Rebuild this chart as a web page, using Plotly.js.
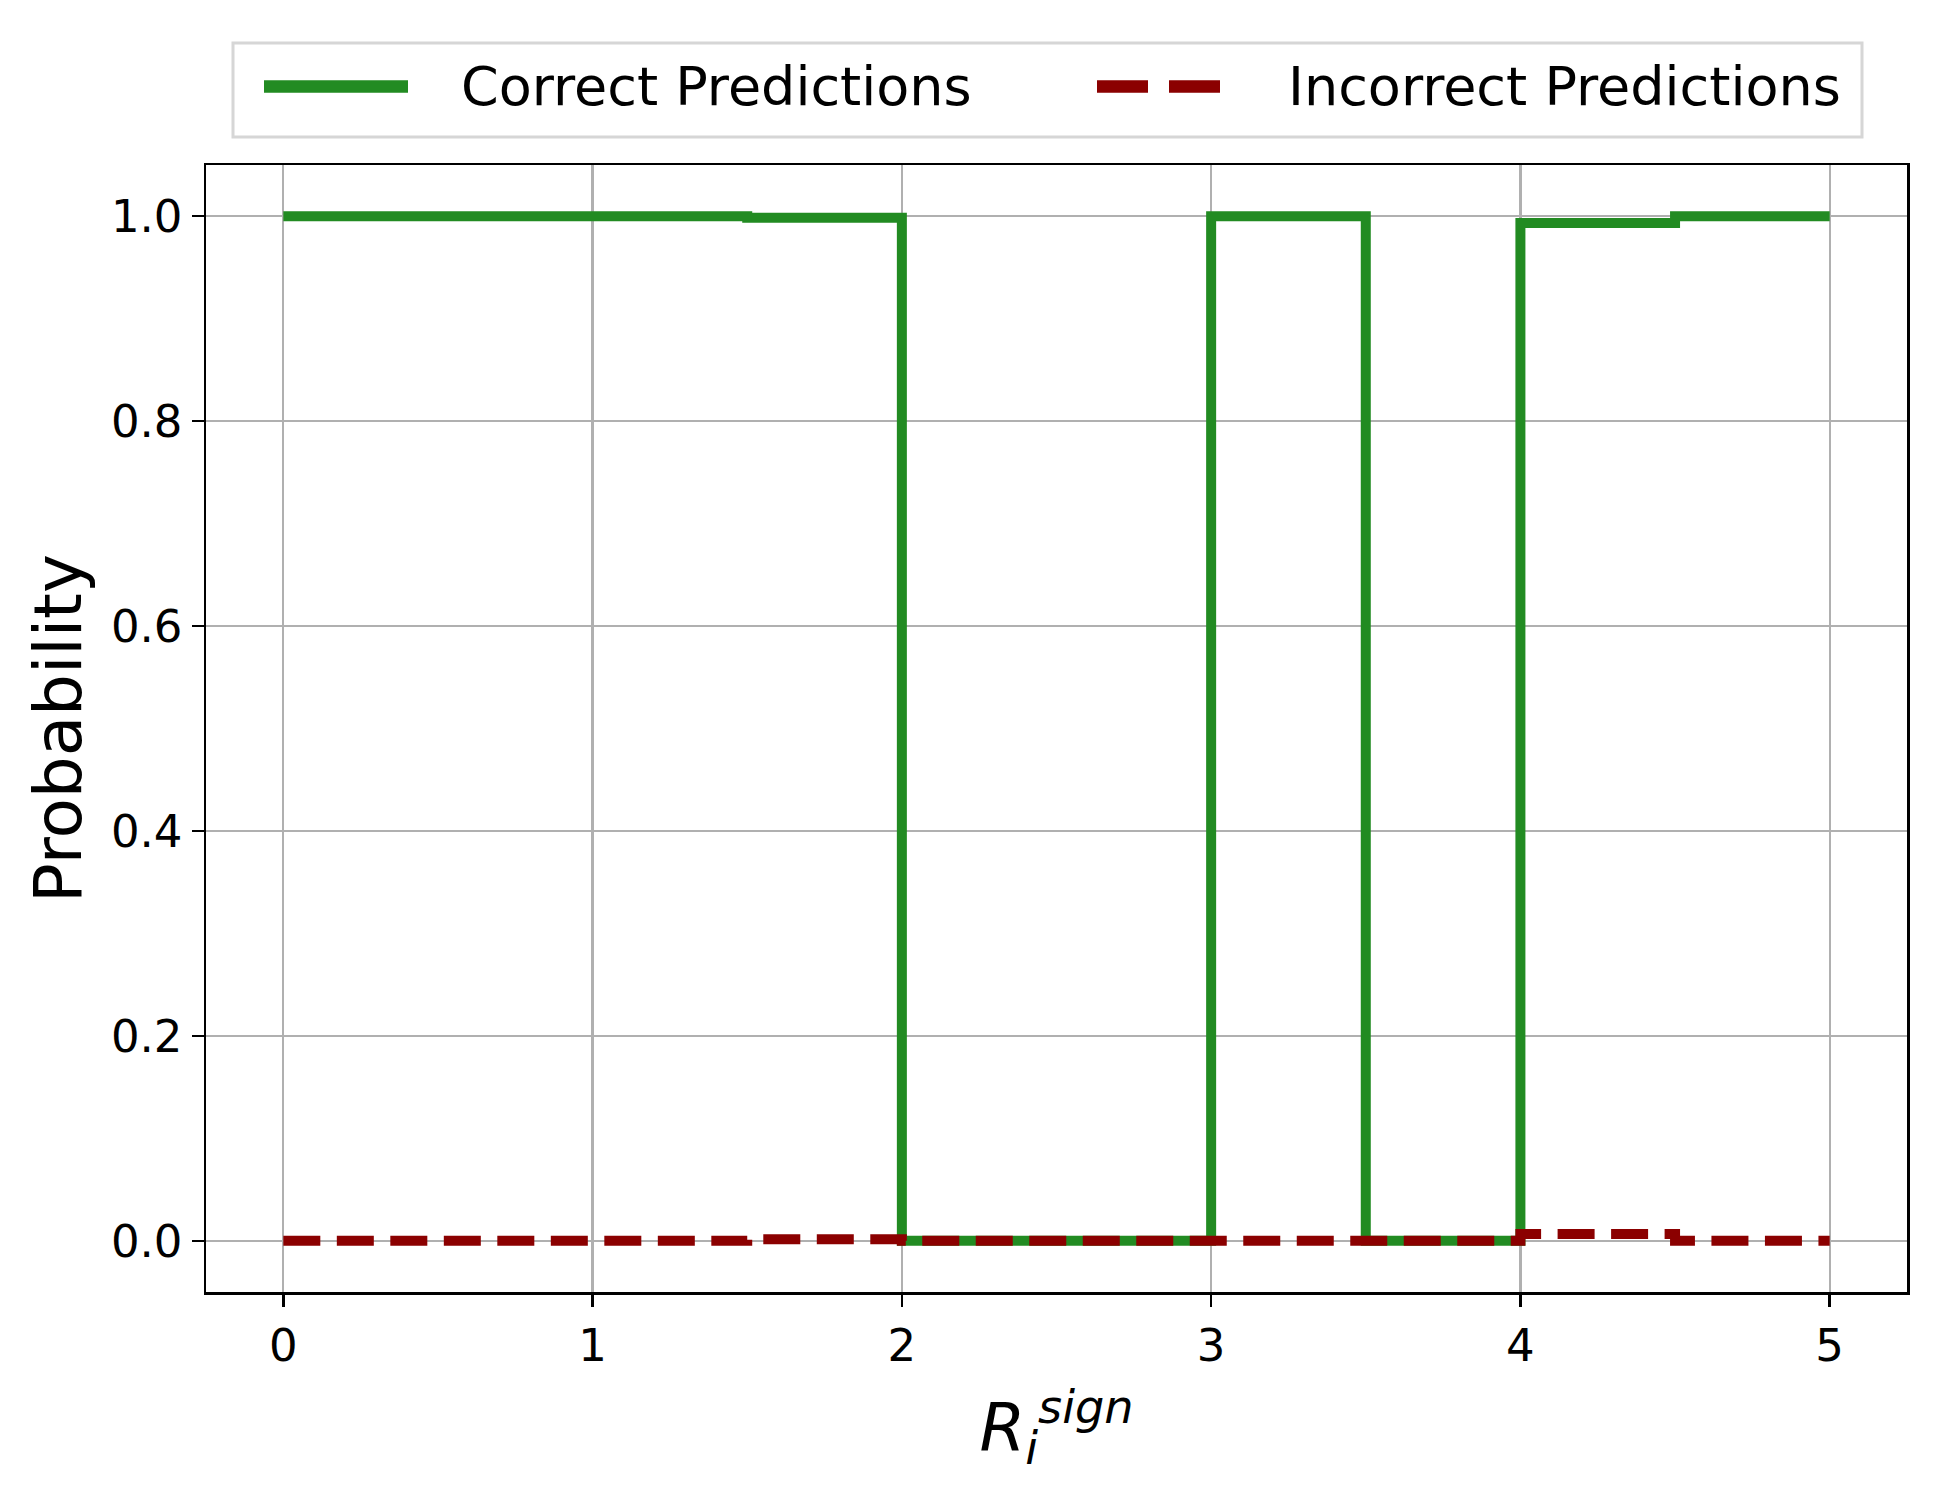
<!DOCTYPE html>
<html>
<head>
<meta charset="utf-8">
<script src="https://cdn.plot.ly/plotly-3.0.1.min.js"></script>
<style>
  html, body { margin: 0; padding: 0; background: #fff; }
  #plot { width: 1942px; height: 1501px; }
</style>
</head>
<body>
<div id="plot"></div>
<script>
// bin edges (step, where = post)
const rSign = [0, 0.5, 1.0, 1.5, 2.0, 2.5, 3.0, 3.5, 4.0, 4.5, 5.0];
const correctProb = [1.0, 1.0, 1.0, 0.9985, 0.0, 0.0, 1.0, 0.0, 0.9935, 1.0, 1.0];
const incorrectProb = [0.0, 0.0, 0.0, 0.0015, 0.0, 0.0, 0.0, 0.0, 0.0065, 0.0, 0.0];
const xTicks = [0, 1, 2, 3, 4, 5];
const yTicks = [0.0, 0.2, 0.4, 0.6, 0.8, 1.0];
const seriesNames = ['Correct Predictions', 'Incorrect Predictions'];

const FONT = 'DejaVu Sans, Liberation Sans, sans-serif';
const W = 1942, H = 1501;
const M = { l: 206, r: 35, t: 165, b: 209 };

// pixel -> paper coords (for the hand-made legend)
const px = x => (x - M.l) / (W - M.l - M.r);
const py = y => (H - M.b - y) / (H - M.t - M.b);

document.addEventListener('DOMContentLoaded', function () {
  const correctTrace = {
    x: rSign,
    y: correctProb,
    type: 'scatter',
    mode: 'lines',
    name: seriesNames[0],
    line: { shape: 'hv', color: '#228B22', width: 10 },
  };
  const incorrectTrace = {
    x: rSign,
    y: incorrectProb,
    type: 'scatter',
    mode: 'lines',
    name: seriesNames[1],
    line: { shape: 'hv', color: '#8B0000', width: 10, dash: '37px,16.5px' },
  };

  const axisCommon = {
    showline: true,
    mirror: true,
    linecolor: '#000',
    linewidth: 2.5,
    ticks: 'outside',
    ticklen: 12,
    tickwidth: 2.5,
    tickcolor: '#000',
    showgrid: true,
    gridcolor: '#b0b0b0',
    gridwidth: 2.2,
    zeroline: false,
    tickfont: { family: FONT, size: 45, color: '#000' },
    automargin: false,
  };

  const legendY = 86.5;
  const shapes = [
    { type: 'rect', xref: 'paper', yref: 'paper',
      x0: px(233), x1: px(1862), y0: py(137), y1: py(43),
      line: { color: '#d6d6d6', width: 3 }, fillcolor: '#fff' },
    { type: 'line', xref: 'paper', yref: 'paper',
      x0: px(264), x1: px(408), y0: py(legendY), y1: py(legendY),
      line: { color: '#228B22', width: 12.5 } },
    { type: 'line', xref: 'paper', yref: 'paper',
      x0: px(1097), x1: px(1220), y0: py(legendY), y1: py(legendY),
      line: { color: '#8B0000', width: 12.5, dash: '51px,21px' } },
  ];

  const annotations = [
    { xref: 'paper', yref: 'paper', x: px(459), y: py(legendY),
      xanchor: 'left', yanchor: 'middle', showarrow: false,
      text: seriesNames[0], font: { family: FONT, size: 54, color: '#000' } },
    { xref: 'paper', yref: 'paper', x: px(1286), y: py(legendY),
      xanchor: 'left', yanchor: 'middle', showarrow: false,
      text: seriesNames[1], font: { family: FONT, size: 54, color: '#000' } },
  ];

  const layout = {
    width: W,
    height: H,
    margin: M,
    paper_bgcolor: '#fff',
    plot_bgcolor: '#fff',
    showlegend: false,
    font: { family: FONT, color: '#000' },
    xaxis: Object.assign({}, axisCommon, {
      range: [-0.25, 5.25],
      tickvals: xTicks,
      ticktext: xTicks.map(String),
      title: { text: '<i>R</i><sub><i>i</i></sub><sup><i>sign</i></sup>',
               font: { family: FONT, size: 66, color: '#000' }, standoff: 34 },
    }),
    yaxis: Object.assign({}, axisCommon, {
      range: [-0.05, 1.05],
      tickvals: yTicks,
      ticktext: yTicks.map(v => v.toFixed(1)),
      title: { text: 'Probability', font: { family: FONT, size: 66, color: '#000' }, standoff: 8 },
    }),
    shapes: shapes,
    annotations: annotations,
  };

  Plotly.newPlot('plot', [correctTrace, incorrectTrace], layout, { displayModeBar: false, staticPlot: true });
});
</script>
</body>
</html>
